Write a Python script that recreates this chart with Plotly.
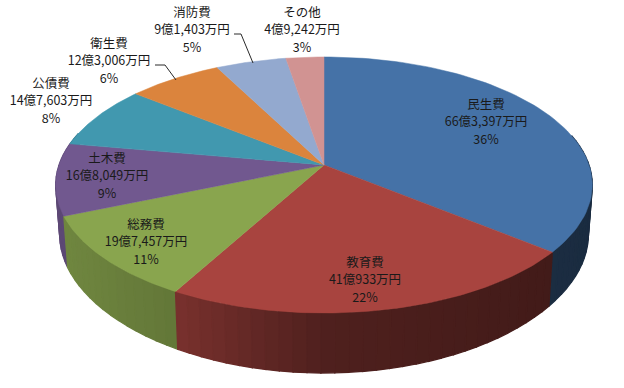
import numpy as np
import plotly.graph_objects as go

# ---- data ----
categories = ["民生費", "教育費", "総務費", "土木費", "公債費", "衛生費", "消防費", "その他"]
values_man_yen = [663397, 410933, 197457, 168049, 147603, 123006, 91403, 49242]
percent_labels = ["36%", "22%", "11%", "9%", "8%", "6%", "5%", "3%"]

# ---- styles / layout ----
top_colors = ["#4572A7", "#A8443F", "#89A54E", "#71588F", "#4198AF", "#DB843D", "#93A9CF", "#D19392"]
label_xy = [(486, 123), (365, 281), (146, 243), (107, 177), (51, 102), (109, 62), (192, 31), (302, 31)]
leaders = [None, None, None, None, None,
           ([155, 165, 176], [65, 65, 80]),
           ([234, 241, 253], [34, 34, 63]),
           None]
LINE_STEP = 17.5
CX, CY, RX, RY, K = 324, 165, 265, 124.9, 0.156
FONT = "Noto Sans CJK JP"


def project(theta):
    """Tilted disc with perspective: theta clockwise from the top of the pie."""
    u, v = np.sin(theta), np.cos(theta)
    s = 1 / (1 + K * v)
    return CX + RX * u * s, CY - RY * v * s


def project_bottom(theta):
    x, y = project(theta)
    v = np.cos(theta)
    return CX + (x - CX) * 0.985, y + 50 + 10 * v ** 2


def shade(hex_color, f):
    r, g, b = (int(hex_color[i:i + 2], 16) for i in (1, 3, 5))
    return f"rgb({r * f:.0f},{g * f:.0f},{b * f:.0f})"


total = sum(values_man_yen)
edges = 2 * np.pi * np.concatenate([[0], np.cumsum(values_man_yen)]) / total

fig = go.Figure()

# side wall, back-to-front strips
strips = []
for i, c in enumerate(top_colors):
    n = max(2, int((edges[i + 1] - edges[i]) / np.radians(2.5)))
    t = np.linspace(edges[i], edges[i + 1], n + 1)
    for a, b in zip(t[:-1], t[1:]):
        if np.cos((a + b) / 2) < 0.25:
            strips.append((a, b, c))
strips.sort(key=lambda q: -np.cos((q[0] + q[1]) / 2))
for a, b, c in strips:
    xa, ya = project(np.array([a, b]))
    xb, yb = project_bottom(np.array([b, a]))
    f = np.interp((xa[0] + xa[1]) / 2, [57, 175, 323, 592], [0.82, 0.72, 0.47, 0.38])
    col = shade(c, f)
    fig.add_trace(go.Scatter(x=list(xa) + list(xb) + [xa[0]], y=list(ya) + list(yb) + [ya[0]],
                             mode="lines", fill="toself", fillcolor=col,
                             line=dict(color=col, width=1.3), hoverinfo="skip", showlegend=False))

# top faces
for i, c in enumerate(top_colors):
    t = np.linspace(edges[i], edges[i + 1], 80)
    x, y = project(t)
    fig.add_trace(go.Scatter(x=[CX] + list(x) + [CX], y=[CY] + list(y) + [CY],
                             mode="lines", fill="toself", fillcolor=c,
                             line=dict(color=c, width=0.5), name=categories[i],
                             hoverinfo="name", showlegend=False))

# leader lines
for seg in leaders:
    if seg:
        fig.add_trace(go.Scatter(x=seg[0], y=seg[1], mode="lines",
                                 line=dict(color="#2a2a2a", width=1),
                                 hoverinfo="skip", showlegend=False))

# labels (three lines each)
tx, ty, tt = [], [], []
for name, v, p, (lx, ly) in zip(categories, values_man_yen, percent_labels, label_xy):
    oku, man = divmod(v, 10000)
    for j, s in enumerate([name, f"{oku}億{man:,}万円", p]):
        tx.append(lx)
        ty.append(ly + (j - 1) * LINE_STEP)
        tt.append(s)
fig.add_trace(go.Scatter(x=tx, y=ty, text=tt, mode="text", textposition="middle center",
                         textfont=dict(family=FONT, size=12.5, color="#1a1a1a"),
                         hoverinfo="skip", showlegend=False))

fig.update_xaxes(range=[0, 624], visible=False, fixedrange=True)
fig.update_yaxes(range=[388, 0], visible=False, fixedrange=True)
fig.update_layout(width=624, height=388, margin=dict(l=0, r=0, t=0, b=0),
                  paper_bgcolor="white", plot_bgcolor="white", showlegend=False)
fig.write_html("out.html", config={"displayModeBar": False},
               post_script="document.body.style.margin='0';document.body.style.overflow='hidden';")
